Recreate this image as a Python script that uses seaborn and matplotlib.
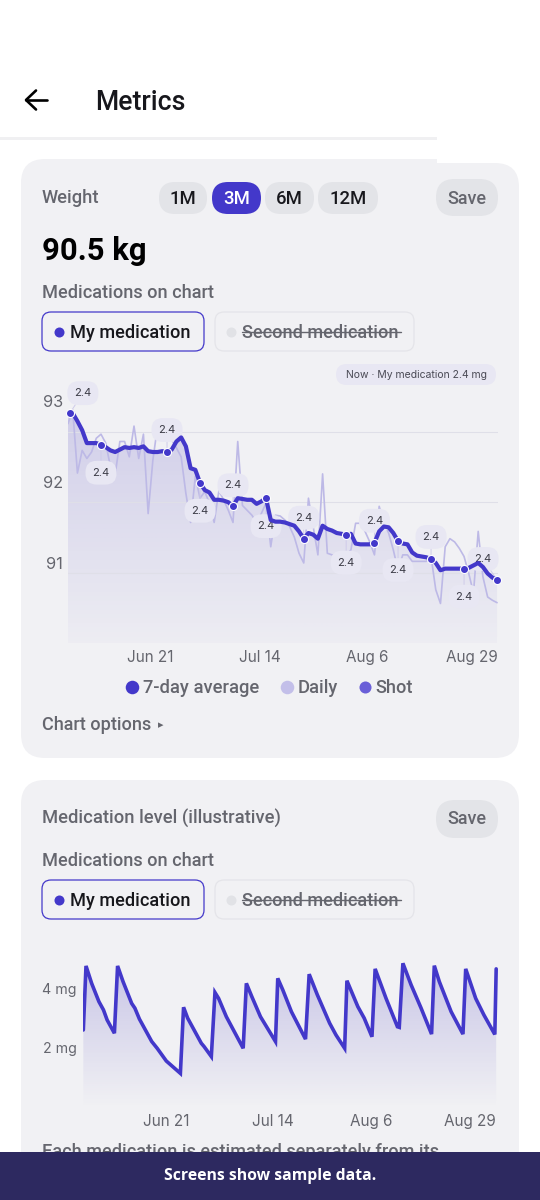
import numpy as np
import pandas as pd
import seaborn as sns
import matplotlib.pyplot as plt
from matplotlib.patches import FancyBboxPatch, Rectangle
from matplotlib.transforms import ScaledTranslation

# chart values
start_date = pd.Timestamp('2025-06-03')
tick_dates = pd.to_datetime(['2025-06-21', '2025-07-14', '2025-08-06', '2025-08-29'])
tick_labels = ['Jun 21', 'Jul 14', 'Aug 6', 'Aug 29']

avg_weight = [92.85, 92.85, 92.75, 92.64, 92.48, 92.48, 92.48, 92.46, 92.43, 92.39,
              92.37, 92.40, 92.43, 92.42, 92.43, 92.42, 92.44, 92.38, 92.37, 92.37,
              92.38, 92.37, 92.40, 92.50, 92.55, 92.44, 92.17, 92.15, 91.99, 91.90,
              91.87, 91.78, 91.78, 91.77, 91.75, 91.70, 91.80, 91.79, 91.78, 91.78,
              91.73, 91.76, 91.80, 91.53, 91.51, 91.51, 91.50, 91.48, 91.46, 91.39,
              91.30, 91.37, 91.35, 91.30, 91.46, 91.42, 91.40, 91.37, 91.36, 91.35,
              91.36, 91.24, 91.23, 91.23, 91.23, 91.25, 91.39, 91.45, 91.44, 91.37,
              91.27, 91.24, 91.23, 91.13, 91.09, 91.08, 91.07, 91.05, 91.00, 90.91,
              90.93, 90.93, 90.93, 90.93, 90.93, 90.94, 90.97, 91.00, 90.95, 90.87,
              90.82, 90.79]

daily_weight = [92.72, 92.89, 92.11, 92.39, 92.29, 92.37, 92.54, 92.59, 92.48, 92.19,
                92.09, 92.50, 92.50, 92.31, 92.69, 92.29, 92.59, 91.61, 92.27, 92.69,
                92.70, 92.70, 92.52, 92.42, 92.31, 91.86, 91.50, 92.07, 91.80, 91.88,
                91.74, 91.50, 91.89, 91.78, 91.65, 91.50, 92.50, 91.71, 91.65, 91.59,
                91.50, 91.61, 91.74, 91.20, 91.59, 91.58, 91.53, 91.45, 91.32, 91.12,
                91.00, 91.80, 91.45, 91.10, 92.10, 91.12, 91.10, 91.10, 91.10, 91.10,
                91.16, 91.49, 91.49, 91.39, 91.26, 91.10, 91.70, 91.49, 91.37, 91.16,
                90.91, 91.10, 91.10, 91.02, 91.02, 91.02, 91.02, 91.08, 90.67, 90.50,
                91.20, 91.30, 91.26, 91.18, 91.08, 90.87, 90.63, 91.39, 90.83, 90.58,
                90.54, 90.51]

shot_days = [0.4, 7, 21, 28, 35, 42, 50, 59, 65, 70, 77, 84, 91]
shot_weight = [92.85, 92.46, 92.37, 91.99, 91.70, 91.80, 91.30, 91.35, 91.25, 91.27, 91.05, 90.93, 90.79]
shot_dose = ['2.4'] * 13
label_dx = [13, 0, 0, 0, 0, 0, 0, 0, 0, 0, 0, 0, -14]
label_dy = [-20, 28, -22, 28, -21, 28, -21, 28, -22, 29, -22, 28, -21]

level_days = [0.07, 0.66, 1.9, 3.5, 4.5, 5.3, 6.9, 7.6, 8.8, 10.7, 11.4, 12.4, 15.1, 16.3, 18.3,
              21.4, 22.1, 23, 26, 26.6, 28.2, 29, 29.8, 31.5, 35.2, 35.9, 37.1, 39, 42.3, 42.8,
              43.9, 45.8, 48.9, 49.7, 51.5, 54.2, 55.6, 57.5, 58.0, 60.4, 61.8, 63.5, 64.2, 66.6,
              69.1, 69.5, 70.3, 72.1, 74.3, 76.6, 77.2, 78.3, 80.9, 83.5, 84.1, 86.3, 88.1, 90.5, 90.8]
level_mg = [2.61, 4.78, 4.19, 3.57, 3.29, 2.95, 2.50, 4.78, 4.25, 3.51, 3.35, 2.98, 2.22, 1.99, 1.56,
            1.14, 3.38, 3.01, 2.16, 2.05, 1.71, 3.88, 3.68, 3.06, 1.99, 4.19, 3.74, 3.06, 2.22, 4.36,
            3.97, 3.23, 2.30, 4.50, 3.80, 2.84, 2.44, 1.99, 4.28, 3.40, 3.01, 2.38, 4.68, 3.68,
            2.72, 2.70, 4.87, 4.14, 3.35, 2.47, 4.79, 4.25, 3.23, 2.47, 4.68, 3.68, 3.12, 2.46, 4.68]

weight_ticks = [91, 92, 93]
weight_grid = [92.62, 91.75, 90.88]
level_ticks = [2, 4]
level_tick_labels = ['2 mg', '4 mg']

# colours
INDIGO = '#4338ca'
DAILY = '#bdb9e6'
SHOT = '#6a5fd8'
CARD = '#f1f1f4'
CHIP = '#e3e4e8'
GREY = '#65666e'

sns.set_theme(style='white')
plt.rcParams['font.family'] = ['Roboto', 'DejaVu Sans']

W, H = 540, 1200
fig = plt.figure(figsize=(W / 100, H / 100), dpi=100, facecolor='white')

# pixel canvas for the app screen around the charts
ui = fig.add_axes([0, 0, 1, 1])
ui.set_xlim(0, W)
ui.set_ylim(H, 0)
ui.axis('off')


def pill(x0, y0, x1, y1, color, edge='none', r=None, lw=1.0, z=1):
    r = (y1 - y0) / 2 if r is None else r
    ui.add_patch(FancyBboxPatch((x0 + r, y0 + r), x1 - x0 - 2 * r, y1 - y0 - 2 * r,
                                boxstyle=f'round,pad={r},rounding_size={r}',
                                fc=color, ec=edge, lw=lw, zorder=z, mutation_aspect=1))


def label(x, y, s, size, color=GREY, weight='medium', ha='left', family=None, z=3):
    return ui.text(x, y + 1, s, fontsize=size * 0.72, color=color, fontweight=weight, ha=ha, va='center',
                   zorder=z, family=family or ['Roboto', 'DejaVu Sans'])


def med_chips(y0, y1):
    pill(42, y0, 204, y1, CARD, edge=INDIGO, r=9, lw=0.9, z=2)
    pill(215, y0, 414, y1, CARD, edge='#e4e4e9', r=9, lw=0.9, z=2)
    yc = (y0 + y1) / 2
    ui.scatter([59], [yc], s=52, color=INDIGO, linewidths=0, zorder=3)
    ui.scatter([231], [yc], s=52, color='#e1e2e6', linewidths=0, zorder=3)
    label(70, yc, 'My medication', 18.2, color='#17171c')
    label(242, yc, 'Second medication', 18.2)
    ui.plot([242, 401], [yc, yc], color=GREY, lw=1.0, zorder=4)


# header
ui.add_patch(Rectangle((0, 137), 437, 3, fc='#f0f0f2', ec='none', zorder=0))
ui.plot([26, 47], [100, 100], color='black', lw=1.9, solid_capstyle='round', zorder=3)
ui.plot([36, 26, 36], [90.5, 100, 109.5], color='black', lw=1.9, solid_capstyle='round',
        solid_joinstyle='round', zorder=3)
label(95, 102, 'Metrics', 26.6, color='#17171c')

# cards
pill(21, 163, 519, 758, CARD, r=24)
pill(21, 159, 90, 260, CARD, r=24)
ui.add_patch(Rectangle((45, 159), 392, 30, fc=CARD, ec='none', zorder=1))
pill(21, 780, 519, 1260, CARD, r=24)

# weight card top
label(42, 197, 'Weight', 18.4)
for x0, x1, s in [(159, 207, '1M'), (265, 314, '6M'), (318, 378, '12M')]:
    pill(x0, 182, x1, 214, CHIP, z=2)
    label((x0 + x1) / 2, 197.5, s, 18.5, color='#17171c', ha='center')
pill(212, 182, 261, 214, INDIGO, z=2)
label(236.5, 197.5, '3M', 18.5, color='white', ha='center')
pill(436, 179, 498, 216, CHIP, z=2)
label(467, 197.5, 'Save', 18, ha='center')
label(42, 249.5, '90.5 kg', 31, color='black', weight='bold')
label(42, 292, 'Medications on chart', 18.2)
med_chips(312, 351)

# legend and options below weight chart
ui.scatter([132], [687], s=95, color=INDIGO, linewidths=0, zorder=3)
label(143, 687, '7-day average', 18.4)
ui.scatter([287], [687], s=95, color='#c3bfe9', linewidths=0, zorder=3)
label(298, 687, 'Daily', 18.4)
ui.scatter([365], [687], s=75, color=SHOT, linewidths=0, zorder=3)
label(375, 687, 'Shot', 18.2)
label(42, 724.5, 'Chart options', 18)
label(158, 724.5, '▸', 11, family=['DejaVu Sans'])

# medication card top
label(42, 818, 'Medication level (illustrative)', 18.4)
pill(436, 800, 498, 838, CHIP, z=2)
label(467, 818, 'Save', 18, ha='center')
label(42, 860.5, 'Medications on chart', 18.2)
med_chips(880, 919)
label(42, 1151, 'Each medication is estimated separately from its', 18.2, z=2)

# banner on top of the cut off note
ui.add_patch(Rectangle((0, 1152), W, 48, fc='#2d2960', ec='none', zorder=5))
label(270, 1175, 'Screens show sample data.', 15.8, color='white', weight='bold', ha='center',
      family=['Open Sans', 'DejaVu Sans'], z=6)


def chart_axes(x0, y0, x1, y1, ylim):
    ax = fig.add_axes([x0 / W, 1 - y1 / H, (x1 - x0) / W, (y1 - y0) / H])
    ax.patch.set_alpha(0)
    sns.despine(ax=ax, left=True, bottom=True)
    ax.set_xlim(start_date, start_date + pd.Timedelta(days=91.2))
    ax.set_ylim(*ylim)
    return ax


def gradient_fill(ax, x, y, top_alpha, bottom_alpha, ylim):
    # lavender fade under the line, clipped to the area below it
    poly = ax.fill_between(x, y, ylim[0], alpha=0)
    rgba = np.zeros((256, 1, 4))
    rgba[..., :3] = (0.40, 0.36, 0.78)
    rgba[..., 3] = np.linspace(top_alpha, bottom_alpha, 256)[:, None]
    im = ax.imshow(rgba, extent=(0, 1, 0, 1), transform=ax.transAxes, aspect='auto', zorder=0)
    im.set_clip_path(poly.get_paths()[0], transform=ax.transData)
    ax.set_xlim(start_date, start_date + pd.Timedelta(days=91.2))
    ax.set_ylim(*ylim)


def date_ticks(ax, shifts):
    # labels on the phone sit a few pixels off their dates, the last one is pulled inside the edge
    ax.set_xticks(tick_dates)
    ax.set_xticklabels(tick_labels, fontsize=11, color=GREY, family=['Inter', 'DejaVu Sans'])
    ax.tick_params(axis='both', length=0)
    ax.tick_params(axis='x', pad=4.8)
    for tick_text, shift in zip(ax.get_xticklabels(), shifts):
        tick_text.set_transform(tick_text.get_transform() + ScaledTranslation(shift / 100, 0, fig.dpi_scale_trans))
    ax.set_xlabel('')
    ax.set_ylabel('')


# weight chart
days = pd.date_range(start_date, periods=len(avg_weight))
weight_lim = (90.012, 93.259)
ax1 = chart_axes(68, 380, 498, 643, weight_lim)
gradient_fill(ax1, days, avg_weight, 0.26, 0.03, weight_lim)
for level in weight_grid:
    ax1.axhline(level, color='#dfdfe8', lw=0.8, zorder=1)
sns.lineplot(x=days, y=daily_weight, ax=ax1, color=DAILY, lw=1.2, errorbar=None, zorder=2)
sns.lineplot(x=days, y=avg_weight, ax=ax1, color=INDIGO, lw=3.0, errorbar=None, zorder=3,
             solid_joinstyle='round')
shot_dates = start_date + pd.to_timedelta(shot_days, unit='D')
sns.scatterplot(x=shot_dates, y=shot_weight, ax=ax1, s=34, color=INDIGO, edgecolor='white',
                linewidth=0.8, zorder=4, clip_on=False)
for when, val, dose, dx, dy in zip(shot_dates, shot_weight, shot_dose, label_dx, label_dy):
    ax1.annotate(dose, (when, val), xytext=(dx * 0.72, -dy * 0.72), textcoords='offset points',
                 ha='center', va='center', fontsize=8, color='#3b3b46', family=['Inter', 'DejaVu Sans'],
                 annotation_clip=False, zorder=2,
                 bbox=dict(boxstyle='round,pad=0.62,rounding_size=1.0', fc='#e8e7f3', ec='none'),
                 arrowprops=dict(arrowstyle='-', color='#cfcbea', lw=0.7, shrinkA=0, shrinkB=0))
ax1.set_yticks(weight_ticks)
ax1.set_yticklabels(weight_ticks, fontsize=11.8, color=GREY, family=['Inter', 'DejaVu Sans'])
ax1.tick_params(axis='y', pad=3.5)
date_ticks(ax1, [-2.5, -1.5, -2.5, -6])

ui.text(416, 374.5, 'Now · My medication 2.4 mg', fontsize=7.5, color='#4a4a55', ha='center', va='center',
        family=['Inter', 'DejaVu Sans'], zorder=3)
pill(336, 364, 496, 385, '#e8e7f3', z=2)

# medication level chart
level_lim = (0, 5.93)
ax2 = chart_axes(83, 932, 498, 1107, level_lim)
level_dates = start_date + pd.to_timedelta(level_days, unit='D')
gradient_fill(ax2, level_dates, level_mg, 0.36, 0.0, level_lim)
sns.lineplot(x=level_dates, y=level_mg, ax=ax2, color=INDIGO, lw=2.6, errorbar=None, zorder=3,
             solid_joinstyle='miter')
ax2.set_yticks(level_ticks)
ax2.set_yticklabels(level_tick_labels, fontsize=10.2, color=GREY, family=['Inter', 'DejaVu Sans'])
ax2.tick_params(axis='y', pad=4.5)
date_ticks(ax2, [1, 3, -3, -9])

fig.savefig('out.png', dpi=100, facecolor='white')
